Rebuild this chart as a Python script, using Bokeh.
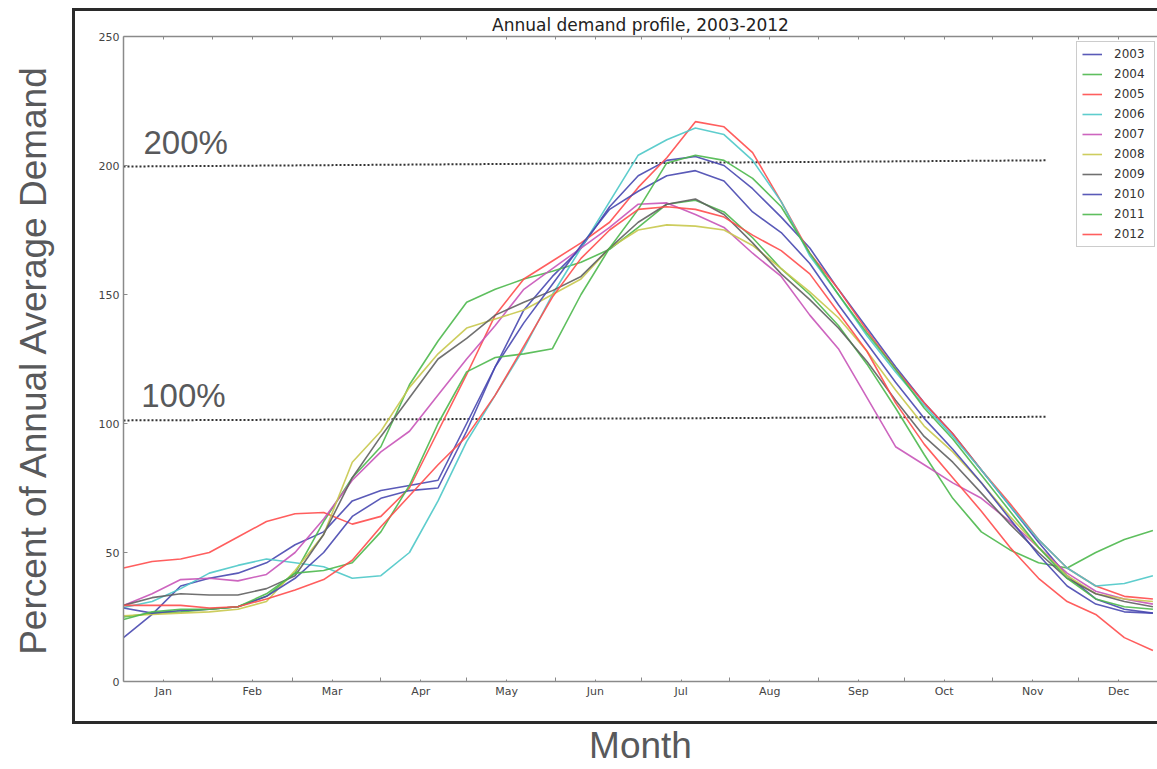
from bokeh.plotting import figure
from bokeh.models import FixedTicker, LinearAxis, Range1d, Label
from bokeh.embed import file_html
from bokeh.resources import INLINE

# ---------------- data ----------------
days = list(range(0, 361, 10))

y2003 = [17, 26, 37, 40, 42, 46, 53, 58, 70, 74, 76, 78, 100, 122, 144, 157, 168, 184, 196,
         202, 203.5, 200, 191, 180, 168, 152, 137, 122, 108, 96, 82, 68, 54, 41, 32, 28, 26.5]
y2004 = [25, 26.5, 27, 28, 29, 33, 42, 62, 79, 91, 115, 132, 147, 152, 156, 159, 162.5, 167.5, 176,
         185, 186.5, 182, 172, 160, 150, 138, 123, 106, 88, 71, 58, 51, 46, 44, 50, 55, 58.5]
y2005 = [44, 46.5, 47.5, 50, 56, 62, 65, 65.5, 61, 64, 75, 97, 119, 142, 156, 163, 170, 178, 191.5,
         203, 217, 215, 205, 186, 166, 152, 136, 121, 108, 96, 82, 69, 55, 44, 37, 33, 32]
y2006 = [28.7, 31, 36, 42, 45, 47.5, 46, 44.5, 40, 41, 50, 70, 93, 111, 129, 150, 168, 186, 204,
         210, 214.5, 212, 202, 186, 165, 150, 134, 120, 107, 95, 82, 68, 55, 44, 37, 38, 41]
y2007 = [29.5, 34, 39.5, 40, 39, 41.5, 50, 63, 78, 89, 97, 111, 125, 138, 152, 160, 168, 176, 185,
         185.5, 181, 176, 166, 157, 142, 129, 110, 91, 84, 77, 71, 62, 52, 42, 35, 32, 30]
y2008 = [25.5, 26, 26.5, 27, 28, 31, 43, 57, 85, 97, 114, 127, 137, 140.5, 144, 150, 156, 168, 175,
         177, 176.5, 175, 169, 160, 151, 141, 128, 113, 99, 89, 77, 64, 52, 41, 34, 32, 31]
y2009 = [29.5, 32.5, 34, 33.5, 33.5, 36, 41, 57, 79, 95, 110, 125, 133, 142, 147, 151.5, 157, 168, 178,
         185, 187, 181, 170, 158, 148, 137, 124, 109, 95, 85, 73, 61, 50, 40, 34, 31, 29]
y2010 = [28.5, 26.5, 27.5, 28, 29, 33, 40, 50, 64, 71, 74, 75, 97, 122, 139, 154, 169, 183, 190,
         196, 198, 194, 182, 174, 162, 146, 131, 116, 102, 90, 77, 63, 49, 37, 30, 27, 26.5]
y2011 = [24, 27, 28, 28, 29, 34, 42, 43, 46, 58, 76, 100, 120, 125.6, 127, 129, 150, 168, 183,
         201, 204, 202, 195, 184, 166, 150, 135, 121, 106, 94, 80, 66, 52, 40, 32, 29, 28]
y2012 = [29.5, 29.5, 29.5, 28.5, 29, 32, 35.5, 39.5, 47, 60, 72, 84, 95, 111, 130, 149, 164, 175, 183,
         184, 183, 180, 173, 167, 158, 143, 128, 108, 92, 79, 66, 52, 40, 31, 26, 17, 12]

years = ["2003", "2004", "2005", "2006", "2007", "2008", "2009", "2010", "2011", "2012"]
series = [y2003, y2004, y2005, y2006, y2007, y2008, y2009, y2010, y2011, y2012]
colors = ["#4848b0", "#4cb84c", "#ff4c4c", "#4cc8c8", "#c854b8",
          "#c8c84c", "#606060", "#4848b0", "#4cb84c", "#ff4c4c"]

month_names = ["Jan", "Feb", "Mar", "Apr", "May", "Jun",
               "Jul", "Aug", "Sep", "Oct", "Nov", "Dec"]
month_label_days = [14, 45, 73, 104, 134, 165, 195, 226, 257, 287, 318, 348]
month_bound_days = [31, 59, 90, 120, 151, 181, 212, 243, 273, 304, 334]
y_ticks = [0, 50, 100, 150, 200, 250]

ref_x = [0, 323]
ref_200 = [199.6, 202.0]
ref_100 = [101.2, 102.6]

# ---------------- figure ----------------
frame_css = {
    "background-color": "white",
    "background-image": "linear-gradient(#2a2a2a,#2a2a2a), linear-gradient(#2a2a2a,#2a2a2a), "
                        "linear-gradient(#2a2a2a,#2a2a2a)",
    "background-size": "3px 716px, 1200px 3px, 1200px 3px",
    "background-position": "72px 8px, 72px 8px, 72px 721px",
    "background-repeat": "no-repeat",
}

p = figure(width=1157, height=768, output_backend="svg", toolbar_location=None,
           x_range=Range1d(0, 361.6), y_range=Range1d(0, 250),
           min_border_left=123, min_border_right=0, min_border_top=36, min_border_bottom=87,
           background_fill_color="white", border_fill_color=None, styles=frame_css)
p.outline_line_color = None
p.grid.visible = False

p.title.text = "Annual demand profile, 2003-2012"
p.title.align = "center"
p.title.text_font = "DejaVu Sans"
p.title.text_font_size = "17px"
p.title.text_font_style = "normal"
p.title.text_color = "#222222"
p.title.standoff = 4

axis_col = "#8a8a8a"
font_small = "11px"

xa = p.xaxis[0]
xa.ticker = FixedTicker(ticks=month_label_days, minor_ticks=month_bound_days)
xa.major_label_overrides = {d: m for d, m in zip(month_label_days, month_names)}
xa.major_tick_in = 2
xa.major_tick_out = 0
xa.minor_tick_in = 4
xa.minor_tick_out = 0
xa.axis_line_color = axis_col
xa.axis_line_width = 1.5
xa.major_tick_line_color = axis_col
xa.minor_tick_line_color = axis_col
xa.major_label_text_font = "DejaVu Sans"
xa.major_label_text_font_size = font_small
xa.major_label_text_color = "#444444"
xa.major_label_standoff = 3
xa.axis_label = "Month"
xa.axis_label_text_font = "Liberation Sans"
xa.axis_label_text_font_size = "37px"
xa.axis_label_text_font_style = "normal"
xa.axis_label_text_color = "#58595b"
xa.axis_label_standoff = 24

ya = p.yaxis[0]
ya.ticker = FixedTicker(ticks=y_ticks)
ya.major_tick_in = 4
ya.major_tick_out = 0
ya.minor_tick_line_color = None
ya.axis_line_color = axis_col
ya.axis_line_width = 1.5
ya.major_tick_line_color = axis_col
ya.major_label_text_font = "DejaVu Sans"
ya.major_label_text_font_size = font_small
ya.major_label_text_color = "#444444"
ya.major_label_standoff = 4
ya.axis_label = "Percent of Annual Average Demand"
ya.axis_label_text_font = "Liberation Sans"
ya.axis_label_text_font_size = "37px"
ya.axis_label_text_font_style = "normal"
ya.axis_label_text_color = "#58595b"
ya.axis_label_standoff = 42

top = LinearAxis(ticker=FixedTicker(ticks=[], minor_ticks=sorted(month_label_days + month_bound_days)),
                 major_label_text_font_size="0px", major_label_standoff=0,
                 major_tick_in=0, major_tick_out=0, minor_tick_in=3, minor_tick_out=0,
                 axis_line_color=axis_col, axis_line_width=1.5,
                 major_tick_line_color=None, minor_tick_line_color=axis_col)
p.add_layout(top, "above")

# reference lines and labels
p.line(ref_x, ref_200, line_color="#333333", line_width=2, line_dash="2 2")
p.line(ref_x, ref_100, line_color="#333333", line_width=2, line_dash="2 2")
p.add_layout(Label(x=7, y=208.9, text="200%", text_font="Liberation Sans",
                   text_font_size="33px", text_color="#58595b", text_baseline="middle"))
p.add_layout(Label(x=6.2, y=110.9, text="100%", text_font="Liberation Sans",
                   text_font_size="33px", text_color="#58595b", text_baseline="middle"))

for yr, ys, c in zip(years, series, colors):
    p.line(days, ys, line_color=c, line_width=1.6, line_alpha=0.9, legend_label=yr)

lg = p.legend[0]
lg.location = (953, 434)
lg.label_text_font = "DejaVu Sans"
lg.label_text_font_size = "12px"
lg.label_text_color = "#333333"
lg.glyph_width = 20
lg.glyph_height = 14
lg.label_height = 14
lg.label_width = 35
lg.label_standoff = 12
lg.spacing = 6
lg.padding = 5
lg.margin = 0
lg.border_line_color = "#999999"
lg.border_line_width = 1.5
lg.background_fill_color = "white"
lg.background_fill_alpha = 1.0

open("out.html", "w").write(file_html(p, INLINE))
